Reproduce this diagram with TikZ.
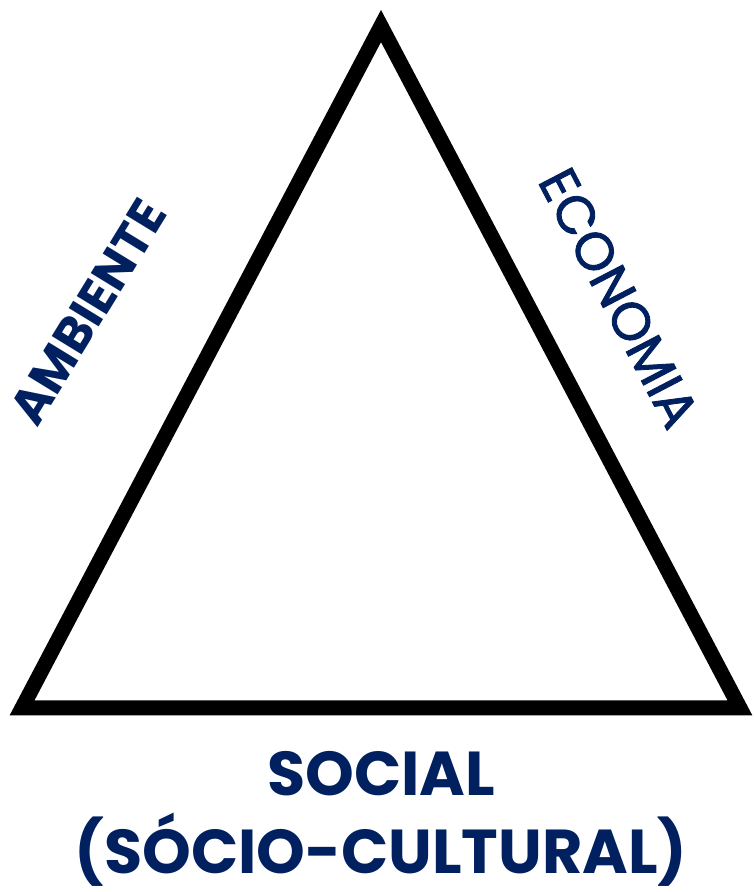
\documentclass[tikz,border=0pt]{standalone}
\usepackage{fontspec}
\setmainfont{Poppins}
\newfontfamily\econfont{Poppins}[BoldFont=*, BoldFeatures={FakeBold=1.6}]
\usepackage{tikz}
\usetikzlibrary{calc}
\usepackage{xcolor}
\definecolor{navy}{HTML}{002060}

\tikzset{
	label text/.style={text=navy, inner sep=0pt, font=\bfseries\fontsize{50}{60}\selectfont},
}

\begin{document}
\begin{tikzpicture}[x=1pt, y=1pt]
		\useasboundingbox (0, 0) rectangle (753, 892);
		\coordinate (A) at (22, 184);
		\coordinate (B) at (381, 866);
		\coordinate (C) at (740, 184);

		\draw [line width=15pt, miter limit=20] (A) -- (B) -- (C) -- cycle;

		\node [label text, rotate=58.5] (ambiente) at (88, 580) {AMBIENTE};
		\node [label text, font=\econfont\bfseries\fontsize{53}{60}\selectfont, rotate=-62.5] (economia) at (619, 594) {ECONOMIA};
		\node [label text, font=\bfseries\fontsize{62}{78}\selectfont, align=center] (social) at (381, 73)
			{SOCIAL\\(SÓCIO-CULTURAL)};
	\end{tikzpicture}
\end{document}
